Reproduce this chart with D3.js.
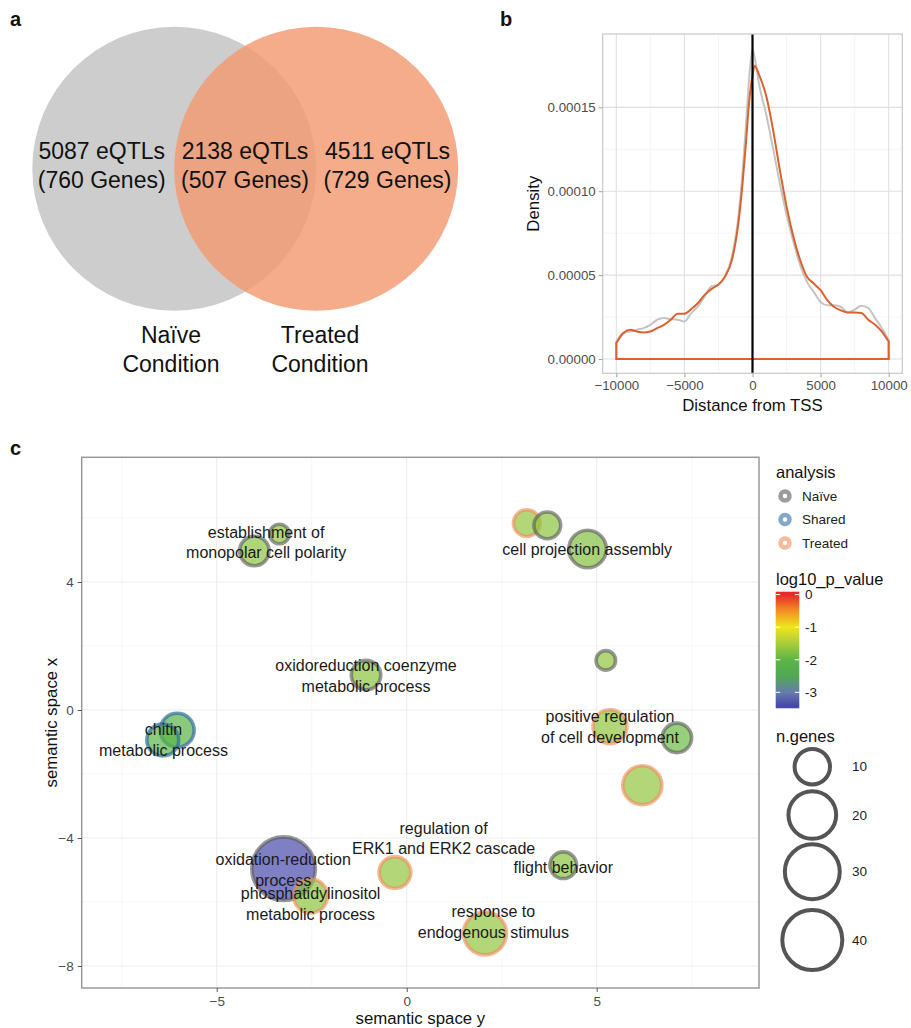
<!DOCTYPE html>
<html><head><meta charset="utf-8">
<script src="https://cdn.jsdelivr.net/npm/d3@7"></script>
<style>
body{margin:0;background:#fff;}
svg{display:block;font-family:"Liberation Sans",Arial,sans-serif;}
</style></head><body>
<svg id="fig" width="911" height="1028"></svg>
<script>
// ---------- panel a: overlap of eQTLs between conditions ----------
const vennEqtls = [5087, 2138, 4511];          // naive only, shared, treated only
const vennGenes = [760, 507, 729];
const vennSets  = ["Naïve", "Treated"];

// ---------- panel b: eQTL density by distance from TSS ----------
const tssDist = [-10000,-9500,-9000,-8500,-8000,-7500,-7000,-6500,-6000,-5500,-5000,-4500,-4000,-3500,-3000,-2500,-2000,-1500,
  -1000,-750,-500,-250,0,150,500,1000,
  1500,2000,2500,3000,3500,4000,4500,5000,5500,6000,6500,7000,7500,8000,8500,9000,9500,10000];
const densNaive = [1.04,1.54,1.64,1.74,1.84,2.04,2.34,2.44,2.38,2.34,2.24,2.74,3.14,3.74,4.34,4.44,4.94,6.14,
  8.74,10.9,13.7,16.7,18.46,18.0,16.3,14.6,
  12.6,10.5,8.6,7.0,5.6,4.6,4.0,3.4,3.2,3.2,3.1,2.78,2.94,3.18,3.04,2.44,1.84,1.14]; // x 1e-5
const densTreated = [0.94,1.54,1.74,1.64,1.58,1.64,1.84,2.04,2.34,2.70,2.70,2.98,3.34,3.84,4.18,4.44,4.94,5.94,
  8.34,10.3,12.7,15.3,16.9,17.48,16.9,15.7,
  13.7,11.3,9.1,7.3,5.9,4.9,4.5,4.1,3.5,3.1,2.9,2.78,2.78,2.74,2.34,2.04,1.64,1.04]; // x 1e-5
const distTicks = [-10000,-5000,0,5000,10000];
const densTicks = [0, 0.00005, 0.0001, 0.00015];

// ---------- panel c: GO terms in semantic space ----------
const goX      = [-4.01,-3.35,-1.07,-6.42,-6.04, 3.16, 3.70, 4.76, 5.24, 5.35, 7.11, 6.20,-3.24,-2.53,-0.31, 4.12, 2.06];
const goY      = [ 4.97, 5.50, 1.09,-0.94,-0.63, 5.84, 5.77, 5.03, 1.55,-0.52,-0.87,-2.35,-4.96,-5.81,-5.08,-4.85,-6.98];
const goLogP   = [-1.7,-1.65,-1.7,-2.0,-2.1,-1.65,-1.7,-1.75,-1.65,-1.65,-1.9,-1.65,-3.4,-1.7,-1.65,-1.7,-1.65];
const goGenes  = [7,4,7,8,9,6,6,11,4,9,7,12,48,9,8,6,15];
const goGroup  = ["Naïve","Naïve","Naïve","Shared","Shared","Treated","Naïve","Naïve","Naïve","Treated","Naïve","Treated","Naïve","Treated","Treated","Naïve","Treated"];
const termLines = [["establishment of","monopolar cell polarity"],["oxidoreduction coenzyme","metabolic process"],
  ["chitin","metabolic process"],["cell projection assembly"],["positive regulation","of cell development"],
  ["oxidation-reduction","process"],["phosphatidylinositol","metabolic process"],["regulation of","ERK1 and ERK2 cascade"],
  ["flight behavior"],["response to","endogenous stimulus"]];
const termX = [-3.70,-1.07,-6.40, 4.75, 5.35,-3.25,-2.53, 0.97, 4.12, 2.28];
const termY = [ 5.23, 1.06,-0.94, 5.02,-0.53,-5.00,-6.06,-4.02,-4.92,-6.62];
const semXTicks = [-5, 0, 5];
const semYTicks = [4, 0, -4, -8];
const groups = ["Naïve", "Shared", "Treated"];
const pTicks = [0, -1, -2, -3];
const sizeTicks = [10, 20, 30, 40];
const pStops = [-3.4, -3.0, -2.5, -2.0, -1.5, -1.0, -0.5, 0];
const pColors = ["#4848aa","#667cab","#50a853","#5db547","#a9cc3a","#efe61c","#f39023","#e8282a"];

const svg = d3.select("#fig");
const panelLetter = (x, y, t) => svg.append("text").attr("x", x).attr("y", y)
  .attr("font-size", 20).attr("font-weight", "bold").attr("fill", "#111").text(t);
panelLetter(10, 26, "a"); panelLetter(500, 26, "b"); panelLetter(10, 455, "c");

// ===== panel a =====
{
  const g = svg.append("g");
  const vx = d3.scaleLinear().domain([0, 1]).range([174.3, 316.2]);
  const cy = 168.7, r = 142;
  g.append("circle").attr("cx", vx(0)).attr("cy", cy).attr("r", r).attr("fill", "#cdcdcd");
  g.append("circle").attr("cx", vx(1)).attr("cy", cy).attr("r", r).attr("fill", "#f29a72").attr("fill-opacity", 0.82);
  const textX = [101.7, 245, 387.5];
  vennEqtls.forEach((n, i) => {
    const t = g.append("text").attr("text-anchor", "middle").attr("font-size", 23).attr("fill", "#111");
    t.append("tspan").attr("x", textX[i]).attr("y", 159).text(`${n} eQTLs`);
    t.append("tspan").attr("x", textX[i]).attr("y", 188).text(`(${vennGenes[i]} Genes)`);
  });
  vennSets.forEach((s, i) => {
    const t = g.append("text").attr("text-anchor", "middle").attr("font-size", 23).attr("fill", "#111");
    t.append("tspan").attr("x", i ? 320 : 171).attr("y", 343).text(s);
    t.append("tspan").attr("x", i ? 320 : 171).attr("y", 371.5).text("Condition");
  });
}

// ===== panel b =====
{
  const L = 602.7, R = 902.3, T = 34, B = 373.3;
  const x = d3.scaleLinear().domain([-11000, 11000]).range([L, R]);
  const y = d3.scaleLinear().domain([-0.0000085, 0.0001937]).range([B, T]);
  const g = svg.append("g");
  const minorX = distTicks.slice(1).map((d, i) => (d + distTicks[i]) / 2);
  const minorY = densTicks.slice(1).map((d, i) => (d + densTicks[i]) / 2);
  g.selectAll(".mx").data(minorX).join("line").attr("x1", x).attr("x2", x).attr("y1", T).attr("y2", B)
    .attr("stroke", "#f2f2f2").attr("stroke-width", 0.8);
  g.selectAll(".my").data(minorY).join("line").attr("y1", y).attr("y2", y).attr("x1", L).attr("x2", R)
    .attr("stroke", "#f2f2f2").attr("stroke-width", 0.8);
  g.selectAll(".gx").data(distTicks).join("line").attr("x1", x).attr("x2", x).attr("y1", T).attr("y2", B)
    .attr("stroke", "#e0e0e0").attr("stroke-width", 1.1);
  g.selectAll(".gy").data(densTicks).join("line").attr("y1", y).attr("y2", y).attr("x1", L).attr("x2", R)
    .attr("stroke", "#e0e0e0").attr("stroke-width", 1.1);

  const area = d3.area().x((d, i) => x(tssDist[i])).y0(y(0)).y1(d => y(d * 1e-5)).curve(d3.curveMonotoneX);
  g.append("path").attr("d", area(densNaive)).attr("fill", "none").attr("stroke", "#c4c4c4").attr("stroke-width", 2);
  g.append("path").attr("d", area(densTreated)).attr("fill", "none").attr("stroke", "#d9622e").attr("stroke-width", 2);
  g.append("line").attr("x1", x(0)).attr("x2", x(0)).attr("y1", T).attr("y2", B).attr("stroke", "#000").attr("stroke-width", 2.2);

  g.append("rect").attr("x", L).attr("y", T).attr("width", R - L).attr("height", B - T)
    .attr("fill", "none").attr("stroke", "#c8c8c8").attr("stroke-width", 1.2);

  const xa = g.append("g").attr("transform", `translate(0,${B})`)
    .call(d3.axisBottom(x).tickValues(distTicks).tickSize(4).tickPadding(3).tickFormat(d3.format("d")));
  const ya = g.append("g").attr("transform", `translate(${L},0)`)
    .call(d3.axisLeft(y).tickValues(densTicks).tickSize(4).tickPadding(3).tickFormat(d3.format(".5f")));
  [xa, ya].forEach(a => {
    a.select(".domain").remove();
    a.selectAll("line").attr("stroke", "#a0a0a0");
    a.selectAll("text").attr("font-size", 13.3).attr("fill", "#4d4d4d").attr("font-family", "Liberation Sans, Arial, sans-serif");
  });
  g.append("text").attr("x", (L + R) / 2).attr("y", 411).attr("text-anchor", "middle")
    .attr("font-size", 16.8).attr("fill", "#111").text("Distance from TSS");
  g.append("text").attr("transform", `translate(539,${(T + B) / 2}) rotate(-90)`).attr("text-anchor", "middle")
    .attr("font-size", 16.8).attr("fill", "#111").text("Density");
}

// ===== panel c =====
{
  const L = 81.7, R = 759, T = 457.3, B = 988;
  const x = d3.scaleLinear().domain([-8.553, 9.271]).range([L, R]);
  const y = d3.scaleLinear().domain([-8.6875, 7.897]).range([B, T]);
  const color = d3.scaleLinear().domain(pStops).range(pColors);
  const radius = d3.scaleLog().domain([10, 40]).range([19.7, 32]);   // outer radius incl. ring
  const ringColor = d3.scaleOrdinal().domain(groups).range(["#5a5a5a", "#2f6f9f", "#f08a5a"]);
  const ringOpacity = d3.scaleOrdinal().domain(groups).range([0.62, 0.7, 0.62]);
  const ringW = 3.6;
  const g = svg.append("g");

  const minorX = [-7.5, -2.5, 2.5, 7.5], minorY = [6, 2, -2, -6];
  g.selectAll(".mx").data(minorX).join("line").attr("x1", x).attr("x2", x).attr("y1", T).attr("y2", B)
    .attr("stroke", "#f5f5f5").attr("stroke-width", 0.8);
  g.selectAll(".my").data(minorY).join("line").attr("y1", y).attr("y2", y).attr("x1", L).attr("x2", R)
    .attr("stroke", "#f5f5f5").attr("stroke-width", 0.8);
  g.selectAll(".gx").data(semXTicks).join("line").attr("x1", x).attr("x2", x).attr("y1", T).attr("y2", B)
    .attr("stroke", "#ebebeb").attr("stroke-width", 1);
  g.selectAll(".gy").data(semYTicks).join("line").attr("y1", y).attr("y2", y).attr("x1", L).attr("x2", R)
    .attr("stroke", "#ebebeb").attr("stroke-width", 1);

  const terms = goX.map((d, i) => ({x: d, y: goY[i], p: goLogP[i], n: goGenes[i], grp: goGroup[i]}))
    .sort((a, b) => b.n - a.n);
  const bub = g.selectAll(".bub").data(terms).join("g");
  bub.append("circle").attr("cx", d => x(d.x)).attr("cy", d => y(d.y)).attr("r", d => radius(d.n) - ringW / 2)
    .attr("fill", d => color(d.p)).attr("fill-opacity", 0.7);
  bub.append("circle").attr("cx", d => x(d.x)).attr("cy", d => y(d.y)).attr("r", d => radius(d.n) - ringW / 2)
    .attr("fill", "none").attr("stroke", d => ringColor(d.grp)).attr("stroke-opacity", d => ringOpacity(d.grp))
    .attr("stroke-width", ringW);

  termLines.forEach((lines, i) => {
    const t = g.append("text").attr("text-anchor", "middle").attr("font-size", 16).attr("fill", "#1a1a1a");
    const lh = 20.5, n = lines.length;
    lines.forEach((s, k) => t.append("tspan").attr("x", x(termX[i]))
      .attr("y", y(termY[i]) + (k - (n - 1) / 2) * lh).attr("dy", "0.35em").text(s));
  });

  g.append("rect").attr("x", L).attr("y", T).attr("width", R - L).attr("height", B - T)
    .attr("fill", "none").attr("stroke", "#9a9a9a").attr("stroke-width", 1.5);

  const xa = g.append("g").attr("transform", `translate(0,${B})`)
    .call(d3.axisBottom(x).tickValues(semXTicks).tickSize(4).tickPadding(4).tickFormat(d3.format("d")));
  const ya = g.append("g").attr("transform", `translate(${L},0)`)
    .call(d3.axisLeft(y).tickValues(semYTicks).tickSize(4).tickPadding(4).tickFormat(d3.format("d")));
  [xa, ya].forEach(a => {
    a.select(".domain").remove();
    a.selectAll("line").attr("stroke", "#555");
    a.selectAll("text").attr("font-size", 13.5).attr("fill", "#4d4d4d").attr("font-family", "Liberation Sans, Arial, sans-serif");
  });
  g.append("text").attr("x", (L + R) / 2).attr("y", 1024).attr("text-anchor", "middle")
    .attr("font-size", 16.8).attr("fill", "#111").text("semantic space y");
  g.append("text").attr("transform", `translate(57,${(T + B) / 2}) rotate(-90)`).attr("text-anchor", "middle")
    .attr("font-size", 16.8).attr("fill", "#111").text("semantic space x");

  // legend: analysis
  const lg = svg.append("g");
  lg.append("text").attr("x", 776).attr("y", 478).attr("font-size", 16.5).attr("fill", "#111").text("analysis");
  groups.forEach((s, i) => {
    const cy = 496 + i * 23.5;
    lg.append("circle").attr("cx", 785).attr("cy", cy).attr("r", 4.5).attr("fill", "#fff")
      .attr("stroke", ringColor(s)).attr("stroke-opacity", 0.6).attr("stroke-width", 4.5);
    lg.append("text").attr("x", 802).attr("y", cy).attr("dy", "0.35em").attr("font-size", 13.5).attr("fill", "#222").text(s);
  });

  // legend: colour bar
  lg.append("text").attr("x", 776).attr("y", 585).attr("font-size", 16.5).attr("fill", "#111").text("log10_p_value");
  const barTop = 591.7, barBot = 708.3, barL = 775.7, barW = 23.6, half = 2.9;
  const pb = d3.scaleLinear().domain([0, pStops[0]]).range([barTop + half, barBot - half]);
  const grad = svg.append("defs").append("linearGradient").attr("id", "pgrad")
    .attr("x1", 0).attr("x2", 0).attr("y1", 0).attr("y2", 1);
  pStops.slice().reverse().forEach(v => grad.append("stop")
    .attr("offset", (pb(v) - barTop) / (barBot - barTop)).attr("stop-color", color(v)));
  lg.append("rect").attr("x", barL).attr("y", barTop).attr("width", barW).attr("height", barBot - barTop).attr("fill", "url(#pgrad)");
  pTicks.forEach(v => {
    lg.append("line").attr("x1", barL).attr("x2", barL + 4.5).attr("y1", pb(v)).attr("y2", pb(v)).attr("stroke", "#fff").attr("stroke-width", 1);
    lg.append("line").attr("x1", barL + barW - 4.5).attr("x2", barL + barW).attr("y1", pb(v)).attr("y2", pb(v)).attr("stroke", "#fff").attr("stroke-width", 1);
    lg.append("text").attr("x", 805).attr("y", pb(v)).attr("dy", "0.35em").attr("font-size", 13.5).attr("fill", "#222").text(v);
  });

  // legend: gene counts
  lg.append("text").attr("x", 776).attr("y", 742).attr("font-size", 16.5).attr("fill", "#111").text("n.genes");
  const keyY = [766.7, 815, 871.7, 940];
  sizeTicks.forEach((v, i) => {
    lg.append("circle").attr("cx", 812.3).attr("cy", keyY[i]).attr("r", radius(v) - 2)
      .attr("fill", "none").attr("stroke", "#555").attr("stroke-width", 4);
    lg.append("text").attr("x", 852).attr("y", keyY[i]).attr("dy", "0.35em").attr("font-size", 13.5).attr("fill", "#222").text(v);
  });
}
</script>
</body></html>
